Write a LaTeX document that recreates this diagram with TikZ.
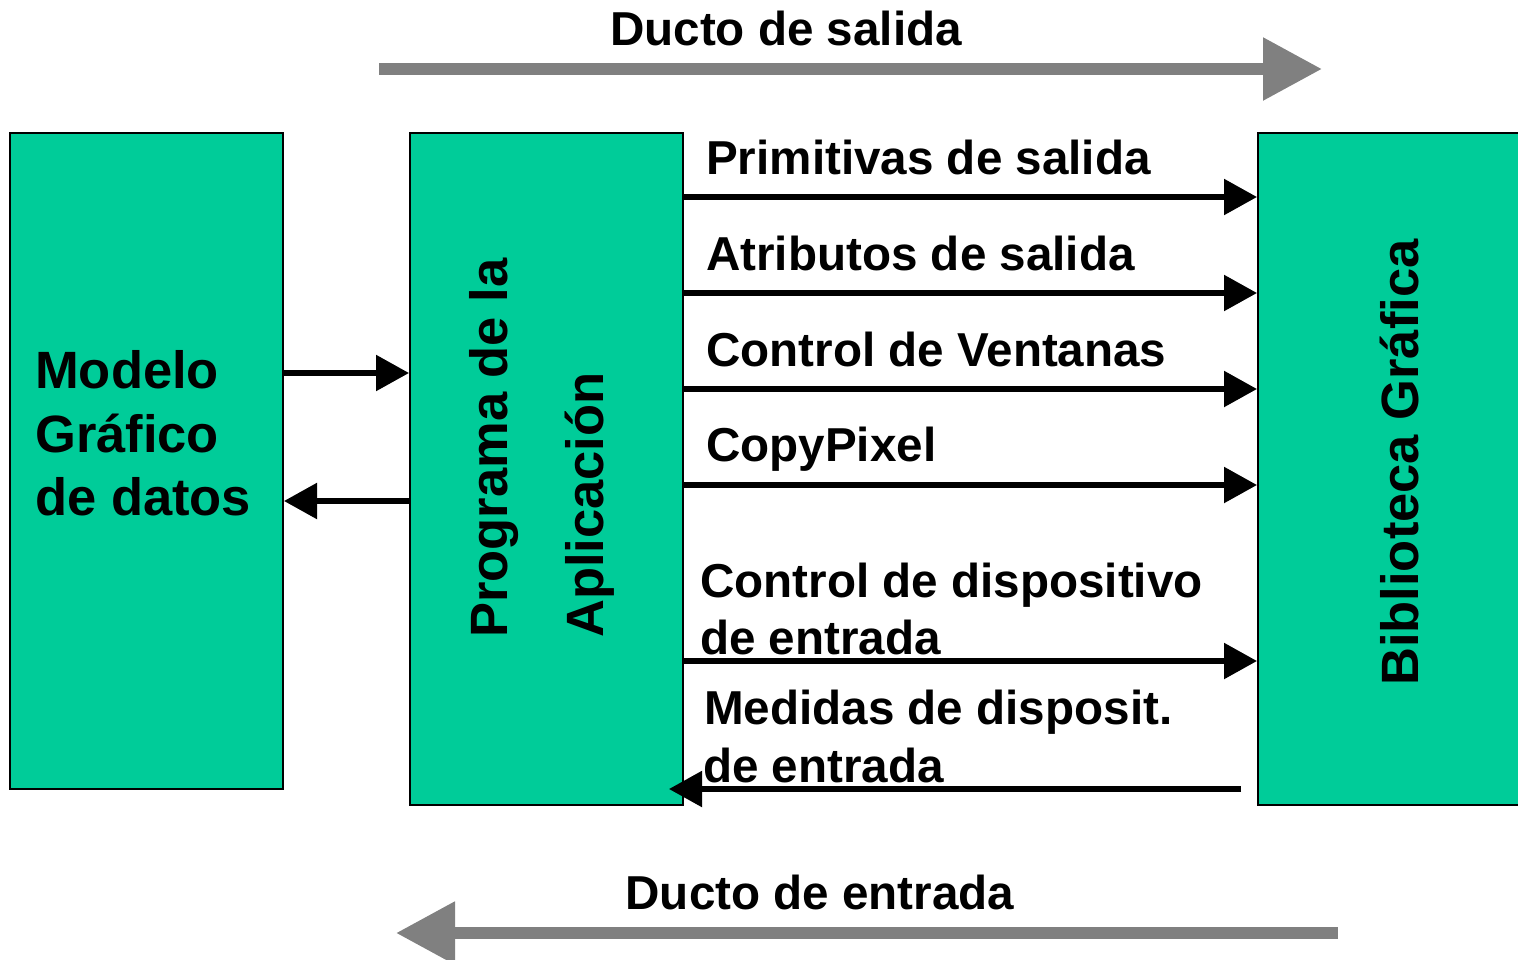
\documentclass[tikz,border=0pt]{standalone}
\usepackage{fontspec}
\setmainfont{Liberation Sans}
\usetikzlibrary{arrows.meta}
\definecolor{boxgreen}{RGB}{0,204,153}
\definecolor{ductgray}{RGB}{128,128,128}
\tikzset{
  blockbox/.style={draw=black, line width=2pt, fill=boxgreen, inner sep=0pt},
  lbl/.style={inner sep=0pt, anchor=base west, font=\fontsize{47.6}{56}\selectfont\bfseries},
  bigtxt/.style={inner sep=0pt, anchor=base west, font=\fontsize{52.5}{63}\selectfont\bfseries},
  flow/.style={line width=5.5pt, -{Triangle[length=33pt,width=35pt]}},
  duct/.style={draw=ductgray, line width=12pt, -{Triangle[length=59pt,width=60pt]}, color=ductgray}
}
\begin{document}
\begin{tikzpicture}[x=1pt,y=-1pt]
\useasboundingbox (0,0) rectangle (1518,959);
% boxes
\node[blockbox, minimum width=273pt, minimum height=656pt] (modelo) at (146.5,461) {};
\node[blockbox, minimum width=273pt, minimum height=672pt] (prog) at (546.5,469) {};
\node[blockbox, minimum width=272pt, minimum height=672pt] (bib) at (1394,469) {};
% box texts
\node[bigtxt] (t1) at (35,388) {Modelo};
\node[bigtxt] (t2) at (35,452) {Gráfico};
\node[bigtxt] (t3) at (35,515) {de datos};
\node[bigtxt, rotate=90] (p1) at (507,638) {Programa de la};
\node[bigtxt, rotate=90] (p2) at (603,638) {Aplicación};
\node[bigtxt, rotate=90] (b1) at (1418,686) {Biblioteca Gráfica};
% duct arrows
\coordinate (ds1) at (379,69);
\coordinate (ds2) at (1322,69);
\coordinate (de1) at (1338,933);
\coordinate (de2) at (396,933);
\draw[duct] (ds1) -- (ds2);
\draw[duct] (de1) -- (de2);
\node[lbl, anchor=base] (ds) at (786,45) {Ducto de salida};
\node[lbl, anchor=base] (de) at (820,909) {Ducto de entrada};
% left arrows
\draw[flow] (modelo.east |- 0,373) -- (prog.west |- 0,373);
\draw[flow] (prog.west |- 0,501) -- (modelo.east |- 0,501);
% right arrows
\draw[flow] (prog.east |- 0,197) -- (bib.west |- 0,197);
\draw[flow] (prog.east |- 0,293) -- (bib.west |- 0,293);
\draw[flow] (prog.east |- 0,389) -- (bib.west |- 0,389);
\draw[flow] (prog.east |- 0,485) -- (bib.west |- 0,485);
\draw[flow] (prog.east |- 0,661) -- (bib.west |- 0,661);
\coordinate (mstart) at ([xshift=-16pt]bib.west |- 0,789);
\coordinate (mend) at ([xshift=-15pt]prog.east |- 0,789);
\draw[flow] (mstart) -- (mend);
% labels
\node[lbl] (l1) at (706,174) {Primitivas de salida};
\node[lbl] (l2) at (706,270) {Atributos de salida};
\node[lbl] (l3) at (706,366) {Control de Ventanas};
\node[lbl] (l4) at (706,461) {CopyPixel};
\node[lbl] (l5a) at (700,597) {Control de dispositivo};
\node[lbl] (l5b) at (700,654) {de entrada};
\node[lbl] (l6a) at (704,724) {Medidas de disposit.};
\node[lbl] (l6b) at (703,782) {de entrada};
\end{tikzpicture}
\end{document}
